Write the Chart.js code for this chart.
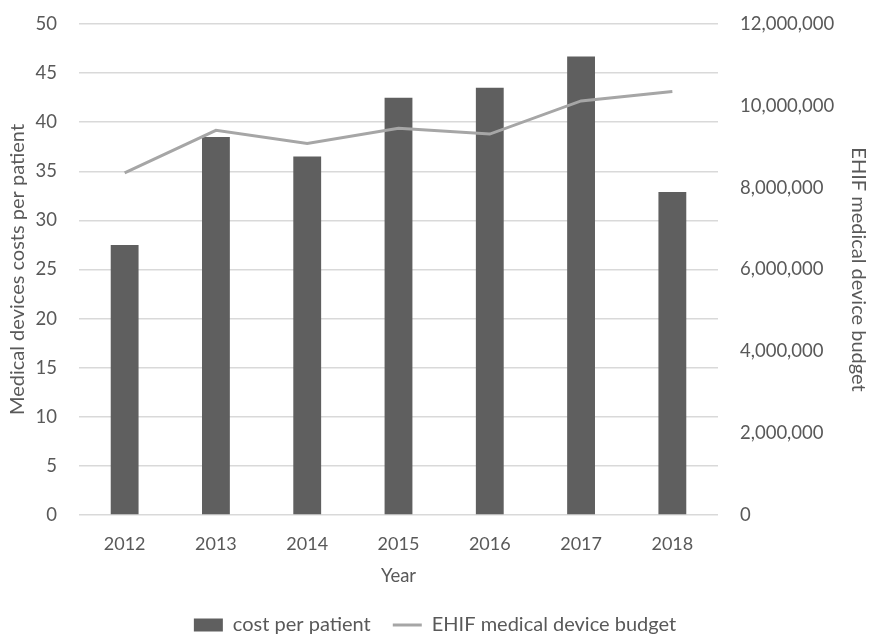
<!DOCTYPE html>
<html>
<head>
<meta charset="utf-8">
<script src="https://cdn.jsdelivr.net/npm/chart.js@4/dist/chart.umd.min.js"></script>
<style>
  html, body { margin: 0; padding: 0; background: #ffffff; }
  #wrap { width: 870px; height: 635px; position: relative; }
</style>
</head>
<body>
<div id="wrap"><canvas id="c" width="870" height="635"></canvas></div>
<script>
// Years on the category axis
const years = ['2012', '2013', '2014', '2015', '2016', '2017', '2018'];
// Medical device cost per patient (left axis)
const costPerPatient = [27.5, 38.5, 36.5, 42.5, 43.5, 46.7, 32.9];
// EHIF medical device budget (right axis)
const ehifBudget = [8360000, 9400000, 9080000, 9450000, 9310000, 10120000, 10350000];

const textColor = '#595959';
const fontFamily = 'Lato, "Open Sans", sans-serif';
const tickFont = { size: 18.5 };
const titleFont = { size: 20 };

Chart.defaults.font.family = fontFamily;
Chart.defaults.font.size = 18;
Chart.defaults.color = textColor;

// Keep the vertical axes from reserving extra room above/below the plot
const trimVerticalPadding = (s) => { s.paddingTop = 10; s.paddingBottom = 10; };

new Chart(document.getElementById('c'), {
  data: {
    labels: years,
    datasets: [
      {
        type: 'bar',
        label: 'cost per patient',
        data: costPerPatient,
        backgroundColor: '#5f5f5f',
        borderWidth: 0,
        yAxisID: 'y',
        order: 1,
        categoryPercentage: 1.0,
        barPercentage: 0.305,
        pointStyle: 'rect'
      },
      {
        type: 'line',
        label: 'EHIF medical device budget',
        data: ehifBudget,
        borderColor: '#a6a6a6',
        backgroundColor: '#a6a6a6',
        borderWidth: 3,
        pointRadius: 0,
        tension: 0,
        yAxisID: 'y1',
        order: 0,
        pointStyle: 'line'
      }
    ]
  },
  options: {
    responsive: false,
    animation: false,
    devicePixelRatio: 1,
    layout: { padding: { top: 24, left: 0, right: 0, bottom: -10 } },
    plugins: {
      tooltip: { enabled: false },
      legend: {
        position: 'bottom',
        labels: {
          usePointStyle: true,
          pointStyleWidth: 29,
          boxHeight: 13,
          padding: 22,
          color: textColor,
          font: titleFont,
          sort: (a, b) => a.datasetIndex - b.datasetIndex
        }
      }
    },
    scales: {
      x: {
        grid: { display: false, drawTicks: false },
        border: { display: false },
        ticks: { padding: 18, color: textColor, font: { size: 18 } },
        title: { display: true, text: 'Year', color: textColor, font: { size: 18.5 }, padding: { top: 6, bottom: 6 } },
        afterFit: (s) => { s.height = 78; }
      },
      y: {
        position: 'left',
        min: 0,
        max: 50,
        ticks: { stepSize: 5, padding: 22, color: textColor, font: tickFont },
        grid: { color: '#d9d9d9', lineWidth: 1.5, drawTicks: false },
        border: { display: false },
        title: { display: true, text: 'Medical devices costs per patient', color: textColor, font: titleFont, padding: { top: 6, bottom: 6 } },
        afterFit: (s) => { s.width = 79; trimVerticalPadding(s); }
      },
      y1: {
        position: 'right',
        min: 0,
        max: 12000000,
        ticks: {
          stepSize: 2000000,
          padding: 22,
          color: textColor,
          font: tickFont,
          callback: (v) => v.toLocaleString('en-US')
        },
        grid: { display: false, drawTicks: false },
        border: { display: false },
        title: { display: true, text: 'EHIF medical device budget', color: textColor, font: titleFont, padding: { top: 0, bottom: 0 } },
        afterFit: (s) => { s.width = 152; trimVerticalPadding(s); }
      }
    }
  }
});
</script>
</body>
</html>
